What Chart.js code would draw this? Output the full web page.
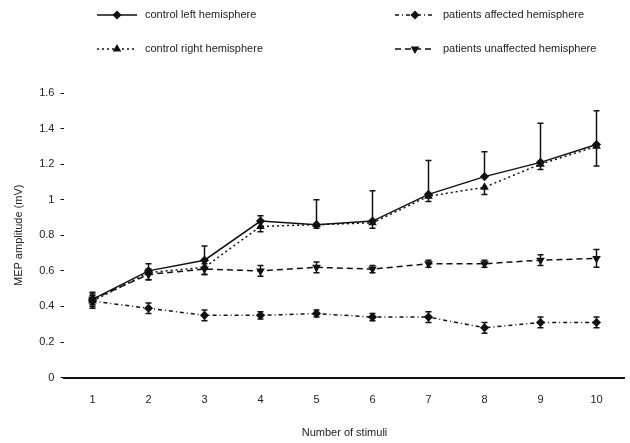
<!DOCTYPE html>
<html>
<head>
<meta charset="utf-8">
<script src="https://cdn.jsdelivr.net/npm/chart.js@4"></script>
<style>
  html, body { margin: 0; padding: 0; background: #fff; }
  #wrap { width: 630px; height: 443px; }
</style>
</head>
<body>
<div id="wrap"><canvas id="mepChart" width="630" height="443"></canvas></div>
<script>
// stimulus number on the x axis
const stimuli = ['1', '2', '3', '4', '5', '6', '7', '8', '9', '10'];

// MEP amplitude (mV)
const controlLeft = [0.44, 0.60, 0.66, 0.88, 0.86, 0.88, 1.03, 1.13, 1.21, 1.31];
const patientsAffected = [0.43, 0.39, 0.35, 0.35, 0.36, 0.34, 0.34, 0.28, 0.31, 0.31];
const controlRight = [0.43, 0.59, 0.62, 0.85, 0.86, 0.87, 1.02, 1.07, 1.20, 1.30];
const patientsUnaffected = [0.44, 0.58, 0.61, 0.60, 0.62, 0.61, 0.64, 0.64, 0.66, 0.67];

// error bar lengths
const controlLeftErr = [0.04, 0.04, 0.08, 0.03, 0.14, 0.17, 0.19, 0.14, 0.22, 0.19];
const patientsAffectedErr = [0.03, 0.03, 0.03, 0.02, 0.02, 0.02, 0.03, 0.03, 0.03, 0.03];
const controlRightErr = [0.04, 0.04, 0.04, 0.03, 0.02, 0.03, 0.03, 0.04, 0.03, 0.11];
const patientsUnaffectedErr = [0.03, 0.03, 0.03, 0.03, 0.03, 0.02, 0.02, 0.02, 0.03, 0.05];

const yTicks = [0, 0.2, 0.4, 0.6, 0.8, 1, 1.2, 1.4, 1.6];

const ink = '#111';

// draws the error bars: dir 1 = up, -1 = down, 0 = both
const errorBars = {
    id: 'errorBars',
    afterDatasetsDraw(chart) {
        const ctx = chart.ctx;
        const y = chart.scales.y;
        chart.data.datasets.forEach((ds, i) => {
            const meta = chart.getDatasetMeta(i);
            ctx.save();
            ctx.strokeStyle = ink;
            ctx.lineWidth = 1.5;
            meta.data.forEach((pt, j) => {
                const v = ds.data[j];
                const e = ds.err[j];
                const hi = ds.errDir >= 0 ? y.getPixelForValue(v + e) : pt.y;
                const lo = ds.errDir <= 0 ? y.getPixelForValue(v - e) : pt.y;
                ctx.beginPath();
                ctx.moveTo(pt.x, hi);
                ctx.lineTo(pt.x, lo);
                if (ds.errDir >= 0) { ctx.moveTo(pt.x - 3, hi); ctx.lineTo(pt.x + 3, hi); }
                if (ds.errDir <= 0) { ctx.moveTo(pt.x - 3, lo); ctx.lineTo(pt.x + 3, lo); }
                ctx.stroke();
            });
            ctx.restore();
        });
    }
};

// two-column legend at the top
const gridLegend = {
    id: 'gridLegend',
    afterDraw(chart) {
        const ctx = chart.ctx;
        const spots = [[97, 15], [395, 15], [97, 49], [395, 49]];
        chart.data.datasets.forEach((ds, i) => {
            const [x, yy] = spots[i];
            ctx.save();
            ctx.strokeStyle = ink;
            ctx.fillStyle = ink;
            ctx.lineWidth = ds.borderWidth;
            ctx.setLineDash(ds.borderDash || []);
            ctx.beginPath();
            ctx.moveTo(x, yy);
            ctx.lineTo(x + 40, yy);
            ctx.stroke();
            ctx.setLineDash([]);
            Chart.helpers.drawPoint(ctx, {
                pointStyle: ds.pointStyle,
                radius: ds.pointRadius,
                rotation: ds.pointRotation || 0,
                borderWidth: 1
            }, x + 20, yy);
            ctx.font = '11px "Liberation Sans", Arial, sans-serif';
            ctx.textBaseline = 'middle';
            ctx.fillStyle = '#222';
            ctx.fillText(ds.label, x + 48, yy);
            ctx.restore();
        });
    }
};

function series(label, data, err, errDir, style, dash, rot) {
    return {
        label: label,
        data: data,
        err: err,
        errDir: errDir,
        borderColor: ink,
        backgroundColor: ink,
        borderWidth: 1.5,
        borderDash: dash,
        pointStyle: style,
        pointRotation: rot,
        pointRadius: 3.5,
        pointBackgroundColor: ink,
        pointBorderColor: ink,
        tension: 0,
        fill: false
    };
}

new Chart(document.getElementById('mepChart'), {
    type: 'line',
    data: {
        labels: stimuli,
        datasets: [
            series('control left hemisphere', controlLeft, controlLeftErr, 1, 'rectRot', [], 0),
            series('patients affected hemisphere', patientsAffected, patientsAffectedErr, 0, 'rectRot', [4, 3, 1, 3], 0),
            series('control right hemisphere', controlRight, controlRightErr, -1, 'triangle', [2, 3], 0),
            series('patients unaffected hemisphere', patientsUnaffected, patientsUnaffectedErr, 0, 'triangle', [6, 4], 180)
        ]
    },
    options: {
        responsive: false,
        animation: false,
        layout: { padding: { top: 93, right: 0, left: 8, bottom: 1 } },
        plugins: {
            legend: { display: false },
            tooltip: { enabled: false }
        },
        scales: {
            x: {
                offset: true,
                grid: { display: false },
                border: { display: true, color: ink, width: 2 },
                ticks: { color: '#222', font: { size: 11, family: 'Liberation Sans' }, padding: 8 },
                title: { display: true, text: 'Number of stimuli', color: '#222', font: { size: 11, family: 'Liberation Sans' }, padding: { top: 12, bottom: 2 } }
            },
            y: {
                min: 0,
                max: 1.6,
                afterBuildTicks(axis) { axis.ticks = yTicks.map(v => ({ value: v })); },
                grid: { drawOnChartArea: false, drawTicks: true, tickLength: 4, color: ink },
                border: { display: false },
                ticks: { color: '#222', font: { size: 11, family: 'Liberation Sans' }, padding: 6, callback: v => String(v) },
                title: { display: true, text: 'MEP amplitude (mV)', color: '#222', font: { size: 11, family: 'Liberation Sans' }, padding: { bottom: 8 } }
            }
        }
    },
    plugins: [errorBars, gridLegend]
});
</script>
</body>
</html>
